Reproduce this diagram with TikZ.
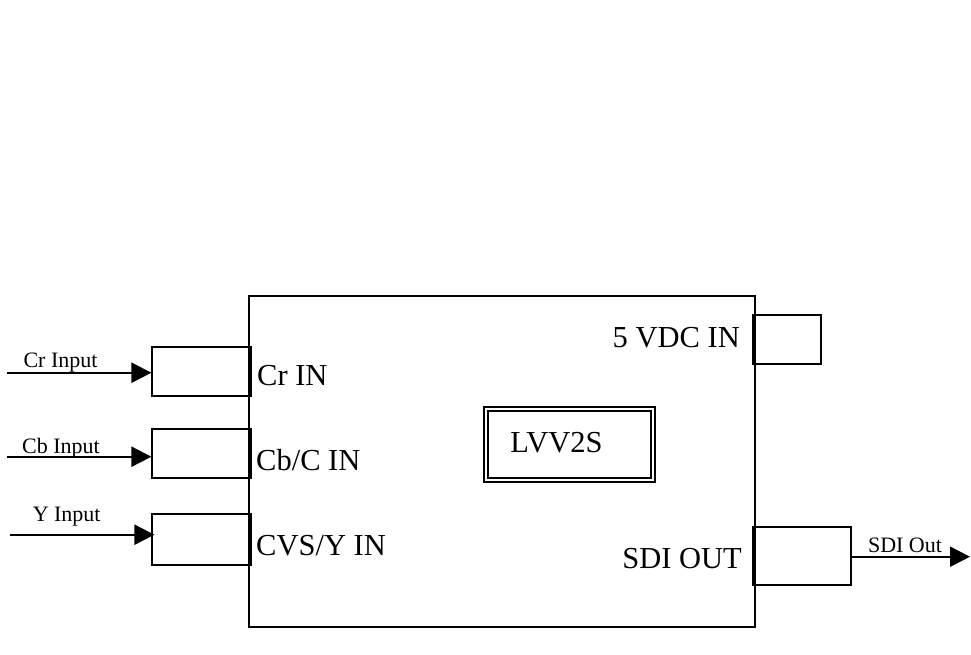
\documentclass[tikz,border=0pt]{standalone}
\usepackage{fontspec}
\setmainfont{Liberation Serif}
\usetikzlibrary{arrows.meta}
\begin{document}
\begin{tikzpicture}[x=1pt,y=-1pt,
  port/.style={draw,line width=2pt,inner sep=0pt},
  sig/.style={line width=2pt,-{Triangle[length=20pt,width=20pt]}},
  big/.style={inner sep=0pt,font=\fontsize{30.5}{36}\selectfont},
  small/.style={inner sep=0pt,anchor=base,font=\fontsize{22}{26}\selectfont}]
\useasboundingbox (0,0) rectangle (971,655);
\node[draw,line width=2pt,anchor=north west,minimum width=506pt,minimum height=331pt] (unit) at (248,295) {};
\node[port,minimum width=98.5pt,minimum height=49.5pt] (crport) at (201.7,371.7) {};
\node[port,minimum width=98.5pt,minimum height=49pt] (cbport) at (201.7,453.5) {};
\node[port,minimum width=98.5pt,minimum height=51pt] (yport) at (201.7,539.5) {};
\node[port,minimum width=68pt,minimum height=49.6pt] (pwrport) at (786.7,339.5) {};
\node[port,minimum width=98pt,minimum height=58.3pt] (sdiport) at (801.7,555.8) {};
\node[draw,double,line width=2pt,double distance=2pt,minimum width=167pt,minimum height=71pt] (core) at (569.5,444.5) {};
\node[big,anchor=base] (corename) at (556.5,452) {LVV2S};
\node[big,anchor=base west] (crin) at (257,385) {Cr IN};
\node[big,anchor=base west] (cbin) at (256,470) {Cb/C IN};
\node[big,anchor=base west] (yin) at (256,555) {CVS/Y IN};
\node[big,anchor=base east] (pwrin) at (740,347) {5 VDC IN};
\node[big,anchor=base east] (sdiout) at (742,568) {SDI OUT};
\coordinate (crsrc) at (7,372.7);
\coordinate (cbsrc) at (7,456.7);
\coordinate (ysrc) at (10,534.7);
\coordinate (sdidst) at (970,556.7);
\draw[sig] (crsrc) -- (crsrc -| crport.west);
\draw[sig] (cbsrc) -- (cbsrc -| cbport.west);
\draw[sig] (ysrc) -- ([xshift=3pt]ysrc -| yport.west);
\draw[sig] (sdidst -| sdiport.east) -- (sdidst);
\node[small] (crlabel) at (60.5,367) {Cr Input};
\node[small] (cblabel) at (61,453) {Cb Input};
\node[small] (ylabel) at (66.7,521.7) {Y Input};
\node[small] (sdilabel) at (905,552.7) {SDI Out};
\end{tikzpicture}
\end{document}
